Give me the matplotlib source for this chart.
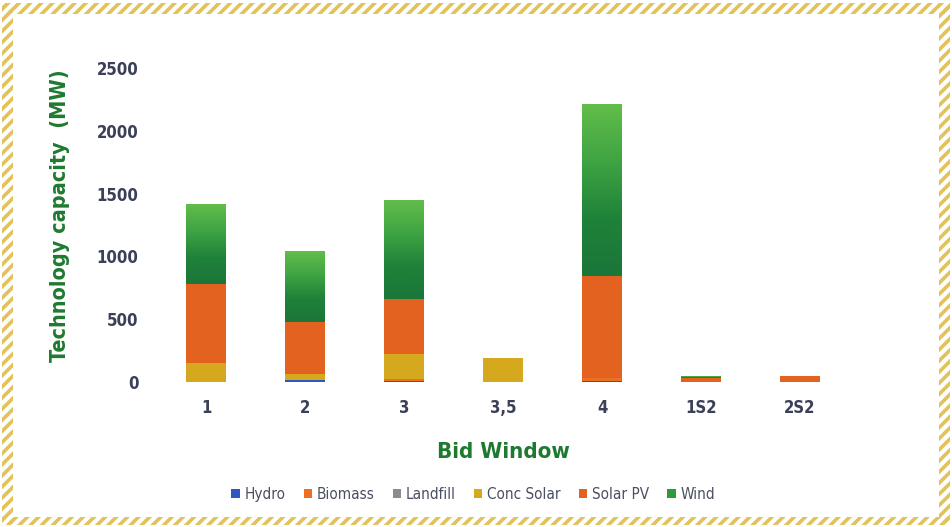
#!/usr/bin/env python

import numpy as np
import matplotlib
matplotlib.use('Agg')
import matplotlib.pyplot as plt
from matplotlib.patches import Rectangle
from matplotlib.colors import LinearSegmentedColormap

###########################
## Data (MW per bid window)

windows = ['1', '2', '3', '3,5', '4', '1S2', '2S2']
techs = ['Hydro', 'Biomass', 'Landfill', 'Conc Solar', 'Solar PV', 'Wind']

hydro      = [0, 14, 8, 0, 5, 0, 0]
biomass    = [0, 0, 16, 0, 25, 0, 0]
landfill   = [0, 0, 0, 0, 0, 0, 0]
conc_solar = [150, 50, 200, 195, 0, 0, 0]
solar_pv   = [632, 417, 435, 0, 813, 35, 45]
wind       = [634, 563, 787, 0, 1363, 10, 0]

colors = ['#2f57c4', '#ec6f24', '#8c8c8c', '#d6a81e', '#e4621f', '#2f9a3c']

###########################

plt.rcParams['font.family'] = ['DejaVu Sans']
plt.rcParams['font.stretch'] = 'condensed'
plt.rcParams['hatch.linewidth'] = 2.6

fig = plt.figure(figsize=(9.52, 5.27), dpi=100)
ax = fig.add_axes([0.1644, 0.2751, 0.728, 0.596])

series = [hydro, biomass, landfill, conc_solar, solar_pv, wind]
x = np.arange(len(windows))
bottom = np.zeros(len(windows))
handles = []
for name, vals, col in zip(techs, series, colors):
    vals = np.array(vals, dtype=float)
    b = ax.bar(x, vals, 0.4, bottom=bottom, color=col, label=name, linewidth=0)
    handles.append(b)
    bottom += vals

## vertical gradient on the wind bars (light top, dark bottom)
wind_cmap = LinearSegmentedColormap.from_list('wind', ['#1b7639', '#1f8239', '#3fa443', '#62bd4a'])
grad = np.linspace(0, 1, 256).reshape(-1, 1)
for p in handles[-1].patches:
    if p.get_height() <= 0:
        continue
    x0, y0 = p.get_x(), p.get_y()
    ax.imshow(grad, cmap=wind_cmap, origin='lower', aspect='auto',
              extent=(x0, x0 + p.get_width(), y0, y0 + p.get_height()),
              zorder=p.get_zorder() + 0.1)

ax.set_xlim(-0.5, len(windows) - 0.5)
ax.set_ylim(0, 2500)
ax.set_yticks(np.arange(0, 2501, 500))
ax.set_xticks(x)
ax.set_xticklabels(windows)

tick_col = '#3b4058'
for lab in ax.get_xticklabels() + ax.get_yticklabels():
    lab.set_fontsize(12)
    lab.set_fontweight('bold')
    lab.set_color(tick_col)

ax.tick_params(length=0)
ax.tick_params(axis='y', pad=13)
ax.tick_params(axis='x', pad=12)
for s in ax.spines.values():
    s.set_visible(False)

green = '#1f7a30'
ax.set_ylabel('Technology capacity  (MW)', fontsize=15.5, fontweight='bold',
              color=green)
ax.yaxis.set_label_coords(-0.125, 0.53)
ax.set_xlabel('Bid Window', fontsize=16, fontweight='bold', color=green,
              labelpad=18)

leg = fig.legend(handles=handles, labels=techs, loc='center',
                 bbox_to_anchor=(0.497, 0.062), ncol=6, frameon=False,
                 handlelength=0.55, handleheight=0.55, handletextpad=0.3,
                 columnspacing=1.2, prop={'size': 11})
for t in leg.get_texts():
    t.set_color('#4a4f62')

## Hatched golden frame
gold = '#e2c25a'
W, H = 952.0, 527.0
frames = [(2, 3, 948, 11),     # top
          (2, 3, 11, 521),     # left
          (939, 3, 11, 521),   # right
          (2, 517, 948, 8)]    # bottom
for (fx, fy, fw, fh) in frames:
    r = Rectangle((fx / W, 1 - (fy + fh) / H), fw / W, fh / H,
                  transform=fig.transFigure, facecolor='none',
                  edgecolor=gold, hatch='///', linewidth=0)
    fig.patches.append(r)

fig.savefig('out.png', dpi=100)
